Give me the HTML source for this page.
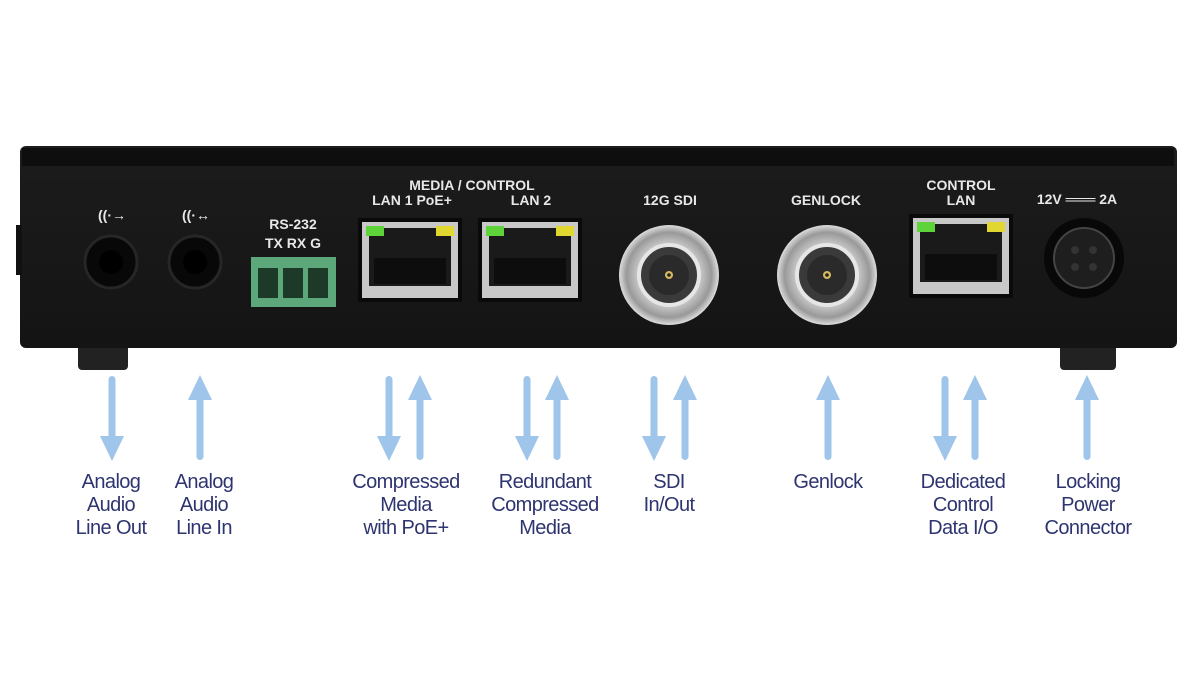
<!DOCTYPE html>
<html><head><style>
html,body{margin:0;padding:0;background:#fff;}
svg{display:block;}
.l{font-family:"Liberation Sans",sans-serif;font-size:20px;fill:#2e3470;text-anchor:middle;letter-spacing:-0.6px}
.w{font-family:"Liberation Sans",sans-serif;font-size:14px;font-weight:bold;fill:#e8e8e8;text-anchor:middle}
</style></head><body>
<svg width="1200" height="675" viewBox="0 0 1200 675">
<defs>
<linearGradient id="body" x1="0" y1="0" x2="0" y2="1">
<stop offset="0" stop-color="#1c1c1c"/><stop offset="1" stop-color="#141414"/></linearGradient>
<radialGradient id="bnc" cx="0.5" cy="0.5" r="0.5">
<stop offset="0.45" stop-color="#555"/><stop offset="0.6" stop-color="#ccc"/><stop offset="0.85" stop-color="#999"/><stop offset="1" stop-color="#ddd"/></radialGradient>
<g id="dn"><rect x="-3.5" y="376" width="7" height="64" rx="3.5" fill="#9fc5ea"/><polygon points="-12,436 12,436 0,461" fill="#9fc5ea"/></g>
<g id="up"><rect x="-3.5" y="396" width="7" height="64" rx="3.5" fill="#9fc5ea"/><polygon points="-12,400 12,400 0,375" fill="#9fc5ea"/></g>
<g id="rj">
<rect x="0" y="0" width="104" height="84" fill="#0a0a0a"/>
<rect x="4" y="4" width="96" height="76" fill="#c8c8c8"/>
<rect x="11" y="10" width="82" height="58" fill="#1a1a1a"/>
<rect x="8" y="8" width="18" height="10" fill="#5fd43a"/>
<rect x="78" y="8" width="18" height="10" fill="#e0d830"/>
<rect x="16" y="40" width="72" height="26" fill="#0d0d0d"/>
</g>
<g id="bncg">
<circle r="50" fill="url(#bnc)"/>
<circle r="30" fill="#3a3a3a" stroke="#e6e6e6" stroke-width="4"/>
<circle r="20" fill="#2a2a2a"/>
<circle r="4" fill="#d4b860"/><circle r="1.8" fill="#222"/>
</g>
</defs>
<rect x="78" y="330" width="50" height="40" rx="4" fill="#222"/>
<rect x="1060" y="330" width="56" height="40" rx="4" fill="#222"/>
<rect x="20" y="146" width="1157" height="202" rx="6" fill="url(#body)"/>
<rect x="22" y="148" width="1152" height="18" fill="#0e0e0e"/>
<rect x="16" y="225" width="6" height="50" fill="#111"/>
<text class="w" x="112" y="220" font-size="16">((·→</text>
<text class="w" x="196" y="220" font-size="16">((·↔</text>
<circle cx="111" cy="262" r="26" fill="#080808" stroke="#262626" stroke-width="3"/><circle cx="111" cy="262" r="12" fill="#000"/>
<circle cx="195" cy="262" r="26" fill="#080808" stroke="#262626" stroke-width="3"/><circle cx="195" cy="262" r="12" fill="#000"/>
<text class="w" x="293" y="229">RS-232</text>
<text class="w" x="293" y="248">TX RX G</text>
<rect x="251" y="257" width="85" height="50" fill="#5ca87a"/>
<rect x="258" y="268" width="20" height="30" fill="#1d3a28"/><rect x="283" y="268" width="20" height="30" fill="#1d3a28"/><rect x="308" y="268" width="20" height="30" fill="#1d3a28"/>
<text class="w" x="472" y="190">MEDIA / CONTROL</text>
<text class="w" x="412" y="205">LAN 1  PoE+</text>
<text class="w" x="531" y="205">LAN 2</text>
<use href="#rj" x="358" y="218"/>
<use href="#rj" x="478" y="218"/>
<text class="w" x="670" y="205">12G  SDI</text>
<use href="#bncg" x="669" y="275"/>
<text class="w" x="826" y="205">GENLOCK</text>
<use href="#bncg" x="827" y="275"/>
<text class="w" x="961" y="190">CONTROL</text>
<text class="w" x="961" y="205">LAN</text>
<use href="#rj" x="909" y="214"/>
<text class="w" x="1077" y="204">12V ═══ 2A</text>
<circle cx="1084" cy="258" r="40" fill="#080808"/>
<circle cx="1084" cy="258" r="30" fill="#1e1e1e" stroke="#444" stroke-width="2"/>
<circle cx="1075" cy="250" r="4" fill="#333"/><circle cx="1093" cy="250" r="4" fill="#333"/>
<circle cx="1075" cy="267" r="4" fill="#333"/><circle cx="1093" cy="267" r="4" fill="#333"/>
<use href="#dn" x="112"/><use href="#up" x="200"/>
<use href="#dn" x="389"/><use href="#up" x="420"/>
<use href="#dn" x="527"/><use href="#up" x="557"/>
<use href="#dn" x="654"/><use href="#up" x="685"/>
<use href="#up" x="828"/>
<use href="#dn" x="945"/><use href="#up" x="975"/>
<use href="#up" x="1087"/>
<text class="l" x="111" y="488">Analog</text><text class="l" x="111" y="511">Audio</text><text class="l" x="111" y="534">Line Out</text>
<text class="l" x="204" y="488">Analog</text><text class="l" x="204" y="511">Audio</text><text class="l" x="204" y="534">Line In</text>
<text class="l" x="406" y="488">Compressed</text><text class="l" x="406" y="511">Media</text><text class="l" x="406" y="534">with PoE+</text>
<text class="l" x="545" y="488">Redundant</text><text class="l" x="545" y="511">Compressed</text><text class="l" x="545" y="534">Media</text>
<text class="l" x="669" y="488">SDI</text><text class="l" x="669" y="511">In/Out</text>
<text class="l" x="828" y="488">Genlock</text>
<text class="l" x="963" y="488">Dedicated</text><text class="l" x="963" y="511">Control</text><text class="l" x="963" y="534">Data I/O</text>
<text class="l" x="1088" y="488">Locking</text><text class="l" x="1088" y="511">Power</text><text class="l" x="1088" y="534">Connector</text>
</svg>
</body></html>
